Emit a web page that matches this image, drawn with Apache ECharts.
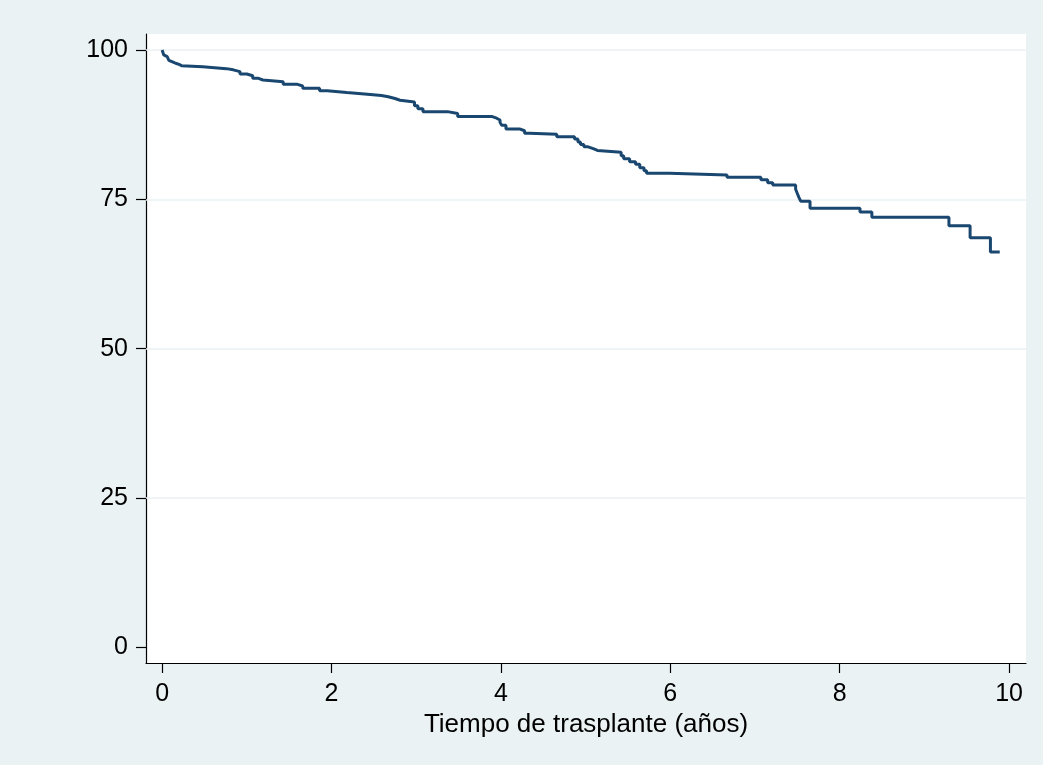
<!DOCTYPE html>
<html>
<head>
<meta charset="utf-8">
<script src="https://cdn.jsdelivr.net/npm/echarts@6/dist/echarts.min.js"></script>
<style>
  html, body { margin: 0; padding: 0; background: #eaf2f3; }
  #chart { width: 1043px; height: 765px; }
</style>
</head>
<body>
<div id="chart"></div>
<script>
// tiempo (años) en que cambia la supervivencia
var tiempos = [0, 0.01, 0.02, 0.04, 0.06, 0.08, 0.10, 0.13, 0.16, 0.20, 0.23,
  0.48, 0.76, 0.84, 0.92, 1.00, 1.07, 1.13, 1.19, 1.43, 1.59, 1.66, 1.86, 1.95,
  2.18, 2.39, 2.59, 2.67, 2.75, 2.81, 2.98, 3.02, 3.08, 3.37, 3.49, 3.89, 3.95,
  3.99, 4.01, 4.06, 4.22, 4.28, 4.34, 4.66, 4.87, 4.91, 4.94, 4.98, 5.03, 5.09,
  5.14, 5.42, 5.45, 5.52, 5.59, 5.64, 5.69, 5.72, 5.99, 6.67, 7.07, 7.15, 7.21,
  7.48, 7.50, 7.52, 7.54, 7.65, 8.24, 8.38, 9.29, 9.54, 9.78, 9.89];
// supervivencia (%) desde cada tiempo
var supervivencia = [100, 99.6, 99.2, 98.9, 98.6, 98.3, 98.0, 97.8, 97.6, 97.4, 97.2,
  96.9, 96.7, 96.4, 96.0, 95.7, 95.3, 95.0, 94.7, 94.3, 94.0, 93.6, 93.2, 92.9,
  92.65, 92.4, 92.2, 91.9, 91.6, 91.3, 90.7, 90.2, 89.7, 89.4, 88.9, 88.6, 88.3,
  87.9, 87.4, 86.8, 86.5, 86.1, 85.9, 85.5, 85.1, 84.6, 84.2, 83.8, 83.5, 83.2,
  82.9, 82.3, 81.8, 81.3, 80.9, 80.3, 79.8, 79.4, 79.1, 78.7, 78.3, 77.8, 77.4,
  76.7, 76.0, 75.3, 74.7, 73.5, 72.9, 72.0, 70.6, 68.6, 66.2, 66.2];

var ticksX = [0, 2, 4, 6, 8, 10];
var ticksY = [0, 25, 50, 75, 100];
var lineasY = [25, 50, 75, 100];

var chart = echarts.init(document.getElementById('chart'));

var puntos = tiempos.map(function (t, i) { return [t, supervivencia[i]]; });

var fuente = 'Liberation Sans, Arial, sans-serif';

var option = {
  backgroundColor: '#eaf2f3',
  animation: false,
  grid: {
    left: 146, right: 17, top: 34, bottom: 102,
    show: true, backgroundColor: '#ffffff', borderWidth: 0
  },
  xAxis: {
    type: 'value',
    min: -0.19, max: 10.2,
    name: 'Tiempo de trasplante (años)',
    nameLocation: 'middle',
    nameGap: 31,
    nameTextStyle: { color: '#000', fontSize: 26, fontFamily: fuente },
    axisLine: { show: true, onZero: false, lineStyle: { color: '#000', width: 1.2 } },
    axisTick: { show: true, length: 10, customValues: ticksX, lineStyle: { color: '#000', width: 1.2 } },
    axisLabel: { customValues: ticksX, margin: 19, color: '#000', fontSize: 25, fontFamily: fuente },
    splitLine: { show: false }
  },
  yAxis: {
    type: 'value',
    min: -2.63, max: 102.7,
    axisLine: { show: true, onZero: false, lineStyle: { color: '#000', width: 1.2 } },
    axisTick: { show: true, length: 10, customValues: ticksY, lineStyle: { color: '#000', width: 1.2 } },
    axisLabel: { customValues: ticksY, margin: 18, color: '#000', fontSize: 25, fontFamily: fuente },
    splitLine: { show: false }
  },
  series: [
    {
      // líneas de rejilla, debajo de la curva
      type: 'line',
      data: [],
      z: 1,
      markLine: {
        z: 1,
        silent: true,
        symbol: 'none',
        label: { show: false },
        lineStyle: { color: '#eaf2f3', width: 1.5, type: 'solid' },
        data: lineasY.map(function (v) { return { yAxis: v }; })
      }
    },
    {
      type: 'line',
      step: 'end',
      data: puntos,
      showSymbol: false,
      z: 3,
      lineStyle: { color: '#1a476f', width: 3 }
    }
  ]
};

chart.setOption(option);
</script>
</body>
</html>
